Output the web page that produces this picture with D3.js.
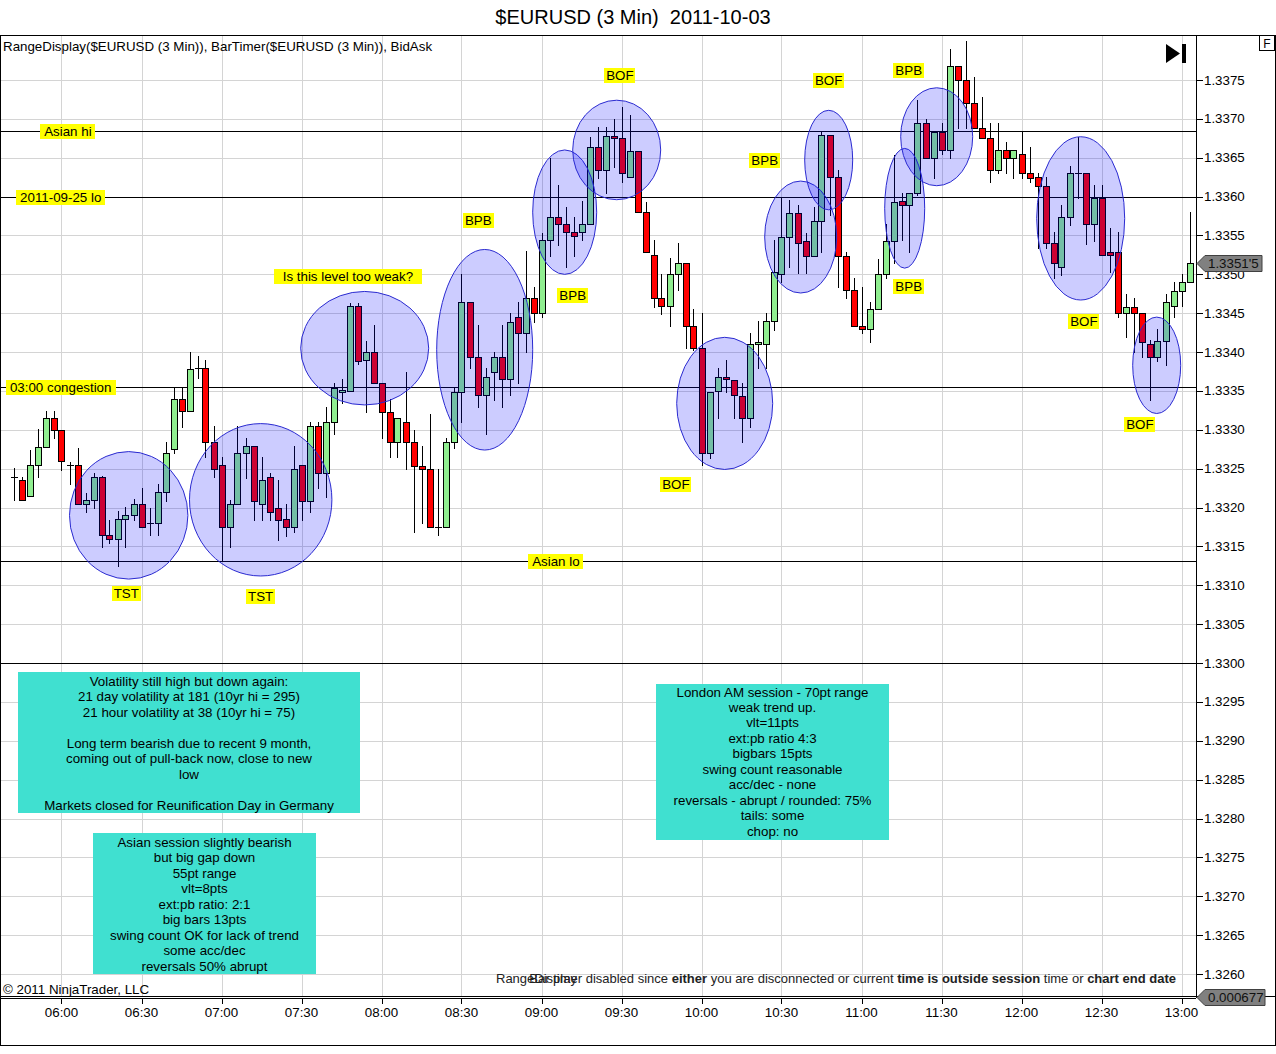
<!DOCTYPE html>
<html>
<head>
<meta charset="utf-8">
<script src="https://cdn.jsdelivr.net/npm/d3@7.9.0/dist/d3.min.js"></script>
<style>
  body { margin: 0; background: #fff; }
  text { font-family: "Liberation Sans", Arial, sans-serif; fill: #000; white-space: pre; }
  .crisp { shape-rendering: crispEdges; }
</style>
</head>
<body>
<svg id="chart" width="1276" height="1054"></svg>
<script>
// 3 min bars, first bar 05:42
const opens = [1.33239,1.33235,1.33215,1.33255,1.33278,1.33315,1.33300,1.33255,1.33255,1.33205,
  1.33210,1.33239,1.33165,1.33160,1.33185,1.33190,1.33205,1.33180,1.33180,1.33220,
  1.33275,1.33340,1.33324,1.33379,1.33379,1.33284,1.33255,1.33175,1.33205,1.33270,
  1.33279,1.33205,1.33239,1.33199,1.33185,1.33175,1.33255,1.33208,1.33305,1.33244,
  1.33310,1.33349,1.33350,1.33459,1.33390,1.33400,1.33360,1.33323,1.33284,1.33310,
  1.33284,1.33253,1.33250,1.33175,1.33175,1.33284,1.33349,1.33464,1.33394,1.33345,
  1.33374,1.33394,1.33365,1.33445,1.33424,1.33469,1.33450,1.33544,1.33574,1.33565,
  1.33554,1.33554,1.33565,1.33664,1.33634,1.33678,1.33675,1.33625,1.33659,1.33580,
  1.33525,1.33469,1.33459,1.33500,1.33515,1.33433,1.33405,1.33270,1.33350,1.33368,
  1.33364,1.33343,1.33315,1.33410,1.33410,1.33440,1.33500,1.33548,1.33579,1.33543,
  1.33524,1.33569,1.33679,1.33625,1.33524,1.33480,1.33433,1.33430,1.33455,1.33500,
  1.33543,1.33594,1.33589,1.33605,1.33695,1.33650,1.33683,1.33660,1.33768,1.33750,
  1.33720,1.33688,1.33675,1.33634,1.33660,1.33650,1.33655,1.33630,1.33625,1.33614,
  1.33540,1.33509,1.33574,1.33630,1.33630,1.33565,1.33598,1.33529,1.33529,1.33450,
  1.33458,1.33450,1.33410,1.33394,1.33414,1.33459,1.33479,1.33490];
const highs = [1.33251,1.33239,1.33274,1.33301,1.33324,1.33324,1.33300,1.33259,1.33277,1.33219,
  1.33244,1.33240,1.33184,1.33196,1.33201,1.33211,1.33225,1.33199,1.33230,1.33284,
  1.33354,1.33354,1.33400,1.33395,1.33390,1.33305,1.33265,1.33210,1.33305,1.33289,
  1.33279,1.33265,1.33244,1.33235,1.33205,1.33279,1.33255,1.33310,1.33310,1.33329,
  1.33360,1.33365,1.33463,1.33463,1.33414,1.33435,1.33360,1.33340,1.33315,1.33374,
  1.33300,1.33279,1.33320,1.33250,1.33289,1.33354,1.33500,1.33464,1.33435,1.33379,
  1.33400,1.33435,1.33450,1.33464,1.33530,1.33484,1.33553,1.33650,1.33615,1.33587,
  1.33574,1.33594,1.33677,1.33689,1.33689,1.33700,1.33715,1.33705,1.33659,1.33593,
  1.33544,1.33500,1.33521,1.33540,1.33515,1.33455,1.33450,1.33349,1.33379,1.33390,
  1.33364,1.33360,1.33424,1.33440,1.33450,1.33544,1.33598,1.33596,1.33589,1.33553,
  1.33587,1.33683,1.33679,1.33634,1.33529,1.33495,1.33484,1.33464,1.33520,1.33565,
  1.33653,1.33605,1.33605,1.33724,1.33700,1.33683,1.33695,1.33790,1.33768,1.33800,
  1.33754,1.33728,1.33695,1.33695,1.33670,1.33660,1.33683,1.33664,1.33630,1.33625,
  1.33554,1.33589,1.33639,1.33677,1.33630,1.33615,1.33615,1.33560,1.33554,1.33475,
  1.33469,1.33450,1.33415,1.33430,1.33475,1.33490,1.33500,1.33580];
const lows = [1.33210,1.33210,1.33215,1.33239,1.33278,1.33289,1.33248,1.33230,1.33205,1.33194,
  1.33199,1.33149,1.33154,1.33125,1.33149,1.33184,1.33175,1.33165,1.33165,1.33208,
  1.33270,1.33304,1.33324,1.33367,1.33265,1.33239,1.33131,1.33149,1.33205,1.33238,
  1.33184,1.33184,1.33184,1.33158,1.33163,1.33169,1.33184,1.33194,1.33225,1.33214,
  1.33295,1.33334,1.33350,1.33385,1.33323,1.33360,1.33289,1.33265,1.33265,1.33250,
  1.33169,1.33180,1.33175,1.33165,1.33175,1.33277,1.33310,1.33379,1.33329,1.33295,
  1.33338,1.33329,1.33345,1.33360,1.33400,1.33439,1.33445,1.33524,1.33538,1.33509,
  1.33524,1.33544,1.33565,1.33624,1.33605,1.33638,1.33619,1.33625,1.33580,1.33529,
  1.33458,1.33449,1.33433,1.33480,1.33405,1.33403,1.33255,1.33264,1.33315,1.33349,
  1.33315,1.33284,1.33304,1.33379,1.33379,1.33428,1.33490,1.33509,1.33502,1.33502,
  1.33524,1.33529,1.33576,1.33484,1.33469,1.33433,1.33424,1.33413,1.33455,1.33495,
  1.33515,1.33544,1.33529,1.33602,1.33650,1.33624,1.33655,1.33650,1.33688,1.33688,
  1.33688,1.33675,1.33619,1.33630,1.33630,1.33624,1.33624,1.33619,1.33534,1.33534,
  1.33495,1.33499,1.33563,1.33598,1.33539,1.33543,1.33525,1.33503,1.33445,1.33419,
  1.33400,1.33394,1.33338,1.33388,1.33383,1.33445,1.33459,1.33490];
const closes = [1.33239,1.33210,1.33255,1.33278,1.33315,1.33300,1.33260,1.33255,1.33205,1.33210,
  1.33239,1.33165,1.33160,1.33185,1.33190,1.33205,1.33175,1.33180,1.33220,1.33270,
  1.33340,1.33324,1.33378,1.33379,1.33284,1.33250,1.33175,1.33205,1.33270,1.33279,
  1.33208,1.33235,1.33194,1.33184,1.33175,1.33250,1.33208,1.33305,1.33244,1.33310,
  1.33354,1.33351,1.33459,1.33388,1.33400,1.33360,1.33323,1.33284,1.33315,1.33284,
  1.33253,1.33250,1.33175,1.33175,1.33284,1.33349,1.33464,1.33394,1.33345,1.33368,
  1.33394,1.33365,1.33439,1.33424,1.33469,1.33450,1.33544,1.33574,1.33565,1.33554,
  1.33549,1.33565,1.33664,1.33634,1.33678,1.33675,1.33630,1.33659,1.33580,1.33529,
  1.33469,1.33459,1.33500,1.33515,1.33433,1.33405,1.33270,1.33349,1.33368,1.33365,
  1.33345,1.33315,1.33410,1.33413,1.33440,1.33503,1.33548,1.33579,1.33540,1.33524,
  1.33569,1.33679,1.33625,1.33524,1.33480,1.33433,1.33430,1.33455,1.33500,1.33543,
  1.33593,1.33589,1.33605,1.33695,1.33650,1.33683,1.33660,1.33768,1.33750,1.33720,
  1.33688,1.33675,1.33634,1.33660,1.33650,1.33660,1.33630,1.33624,1.33614,1.33540,
  1.33515,1.33574,1.33630,1.33630,1.33565,1.33598,1.33525,1.33525,1.33450,1.33458,
  1.33450,1.33413,1.33394,1.33414,1.33464,1.33479,1.33490,1.33515];

// horizontal levels drawn on the chart
const levelNames = ["Asian hi", "2011-09-25 lo", "03:00 congestion", "Asian lo", ""];
const levelPrices = [1.33684, 1.33600, 1.33355, 1.33131, 1.33000];
const levelLabelBars = [6.8, 5.9, 5.9, 67.8, null];

// blue ellipses (centre bar, centre price, half width in bars, half height in price)
const zoneBars = [14.4, 30.9, 43.9, 58.9, 68.9, 75.4, 88.9, 98.4, 101.9, 111.4, 115.4, 133.4, 142.9];
const zonePrices = [1.33190, 1.33210, 1.33405, 1.33403, 1.33580, 1.33660, 1.33334, 1.33548, 1.33647, 1.33585, 1.33677, 1.33572, 1.33383];
const zoneHalfBars = [7.4, 8.9, 8.0, 6.0, 4.0, 5.5, 6.0, 4.5, 3.0, 2.5, 4.5, 5.5, 3.0];
const zoneHalfPrice = [0.00082, 0.00098, 0.00073, 0.00129, 0.00080, 0.00064, 0.00085, 0.00072, 0.00064, 0.00077, 0.00063, 0.00105, 0.00062];

// yellow setup tags
const setupNames = ["TST", "TST", "Is this level too weak?", "BPB", "BPB", "BOF", "BOF", "BPB", "BOF", "BPB", "BPB", "BOF", "BOF"];
const setupBars = [14.1, 30.9, 41.8, 58.1, 69.9, 75.8, 82.8, 93.9, 101.9, 111.9, 111.9, 133.8, 140.8];
const setupPrices = [1.33089, 1.33086, 1.33497, 1.33569, 1.33473, 1.33756, 1.33230, 1.33646, 1.33749, 1.33762, 1.33484, 1.33439, 1.33307];

const noteVolatility = ["Volatility still high but down again:", "21 day volatility at 181 (10yr hi = 295)",
  "21 hour volatility at 38 (10yr hi = 75)", "", "Long term bearish due to recent 9 month,",
  "coming out of pull-back now, close to new", "low", "", "Markets closed for Reunification Day in Germany"];
const noteAsian = ["Asian session slightly bearish", "but big gap down", "55pt range", "vlt=8pts",
  "ext:pb ratio: 2:1", "big bars 13pts", "swing count OK for lack of trend", "some acc/dec", "reversals 50% abrupt"];
const noteLondon = ["London AM session - 70pt range", "weak trend up.", "vlt=11pts", "ext:pb ratio 4:3",
  "bigbars 15pts", "swing count reasonable", "acc/dec - none", "reversals - abrupt / rounded: 75%",
  "tails: some", "chop: no"];

const lastPrice = "1.3351'5";
const rangeValue = "0.000677";

const svg = d3.select('#chart');
const W = 1276;
const FS = '13.33px';
const plot = { left: 1, right: 1196, top: 36, bottom: 997 };

const start = new Date(2011, 9, 3, 5, 42);
const barTime = (i) => new Date(start.getTime() + i * 180000);
const times = opens.map((_, i) => barTime(i));

const x = d3.scaleTime().domain([times[0], times[times.length - 1]]).range([13.5, 1189.5]);
const y = d3.scaleLinear().domain([1.3260, 1.3375]).range([974, 80]);
const bx = (i) => x(barTime(i));

svg.append('rect').attr('width', W).attr('height', 1054).attr('fill', '#fff');

// title
svg.append('text').attr('x', 633).attr('y', 24).attr('text-anchor', 'middle')
  .style('font-size', '20px').text('$EURUSD (3 Min)  2011-10-03');

svg.append('clipPath').attr('id', 'plotclip').append('rect')
  .attr('x', plot.left).attr('y', plot.top).attr('width', plot.right - plot.left).attr('height', plot.bottom - plot.top);

const grid = svg.append('g').attr('class', 'crisp');
const priceTicks = y.ticks(24);
const timeTicks = x.ticks(d3.timeMinute.every(30));

grid.selectAll('.hg').data(priceTicks).join('line')
  .attr('x1', plot.left).attr('x2', plot.right)
  .attr('y1', d => Math.round(y(d)) + 0.5).attr('y2', d => Math.round(y(d)) + 0.5)
  .attr('stroke', '#d4d4d4');
grid.selectAll('.vg').data(timeTicks).join('line')
  .attr('x1', d => Math.round(x(d)) + 0.5).attr('x2', d => Math.round(x(d)) + 0.5)
  .attr('y1', plot.top).attr('y2', plot.bottom)
  .attr('stroke', '#d4d4d4');

// level lines
svg.append('g').attr('class', 'crisp').selectAll('line').data(levelPrices).join('line')
  .attr('x1', plot.left).attr('x2', plot.right)
  .attr('y1', d => Math.round(y(d)) + 0.5).attr('y2', d => Math.round(y(d)) + 0.5)
  .attr('stroke', '#000');

// candles
const candles = svg.append('g').attr('clip-path', 'url(#plotclip)').attr('class', 'crisp');
const bars = candles.selectAll('g').data(opens.map((o, i) => i)).join('g');
bars.append('line')
  .attr('x1', i => Math.round(bx(i)) + 0.5).attr('x2', i => Math.round(bx(i)) + 0.5)
  .attr('y1', i => Math.round(y(highs[i]))).attr('y2', i => Math.round(y(lows[i])) + 1)
  .attr('stroke', '#000');
bars.filter(i => opens[i] !== closes[i]).append('rect')
  .attr('x', i => Math.round(bx(i)) - 2.5)
  .attr('width', 6)
  .attr('y', i => Math.round(y(Math.max(opens[i], closes[i]))) + 0.5)
  .attr('height', i => Math.max(1, Math.round(y(Math.min(opens[i], closes[i]))) - Math.round(y(Math.max(opens[i], closes[i])))))
  .attr('fill', i => closes[i] > opens[i] ? '#90ee90' : '#ff0000')
  .attr('stroke', '#000');
bars.filter(i => opens[i] === closes[i]).append('line')
  .attr('x1', i => Math.round(bx(i)) - 3).attr('x2', i => Math.round(bx(i)) + 4)
  .attr('y1', i => Math.round(y(opens[i])) + 0.5).attr('y2', i => Math.round(y(opens[i])) + 0.5)
  .attr('stroke', '#000');

// ellipses
svg.append('g').attr('clip-path', 'url(#plotclip)').selectAll('ellipse').data(zoneBars).join('ellipse')
  .attr('cx', (d, i) => bx(d))
  .attr('cy', (d, i) => y(zonePrices[i]))
  .attr('rx', (d, i) => bx(d + zoneHalfBars[i]) - bx(d))
  .attr('ry', (d, i) => y(zonePrices[i] - zoneHalfPrice[i]) - y(zonePrices[i]))
  .attr('fill', 'rgba(0,0,255,0.2)')
  .attr('stroke', '#2a2ad0').attr('stroke-width', 1);

// yellow tags
function tag(label, cx, cy, padX) {
  const g = svg.append('g');
  const r = g.append('rect').attr('fill', '#ffff00').attr('class', 'crisp');
  const t = g.append('text').attr('x', cx).attr('y', cy).attr('text-anchor', 'middle')
    .attr('dominant-baseline', 'central').style('font-size', FS).text(label);
  const b = t.node().getBBox();
  r.attr('x', Math.round(b.x - padX)).attr('y', Math.round(cy - 7.5))
    .attr('width', Math.round(b.width + 2 * padX)).attr('height', 15);
}
levelNames.forEach((n, i) => { if (n) tag(n, bx(levelLabelBars[i]), Math.round(y(levelPrices[i])) + 0.5, 4); });
setupNames.forEach((n, i) => tag(n, bx(setupBars[i]), y(setupPrices[i]), n.length > 3 ? 9 : 2));

// note boxes
function note(lines, left, top, w, h, cx, firstY, step) {
  svg.append('rect').attr('class', 'crisp').attr('x', left).attr('y', top).attr('width', w).attr('height', h).attr('fill', '#40e0d0');
  svg.append('g').selectAll('text').data(lines).join('text')
    .attr('x', cx).attr('y', (d, i) => firstY + i * step).attr('text-anchor', 'middle')
    .attr('dominant-baseline', 'central').style('font-size', FS).text(d => d);
}
note(noteVolatility, 18, 672, 342, 141, 189, 681, 15.5);
note(noteAsian, 93, 833, 223, 141, 204.5, 842, 15.5);
note(noteLondon, 656, 684, 233, 156, 772.5, 692, 15.45);

// indicator text
svg.append('text').attr('x', 3).attr('y', 51).style('font-size', FS)
  .text('RangeDisplay($EURUSD (3 Min)), BarTimer($EURUSD (3 Min)), BidAsk');
svg.append('text').attr('x', 3).attr('y', 994).style('font-size', FS).text('\u00a9 2011 NinjaTrader, LLC');
svg.append('text').attr('x', 496).attr('y', 983).style('font-size', '13px').style('fill', '#222').text('RangeDisplay');
const bt = svg.append('text').attr('x', 1176).attr('y', 983).attr('text-anchor', 'end')
  .style('font-size', '13px').style('fill', '#222');
[['Bar timer disabled since ', 0], ['either', 1], [' you are disconnected or current ', 0],
 ['time is outside session', 1], [' time or ', 0], ['chart end date', 1]].forEach(([s, b]) => {
  bt.append('tspan').style('font-weight', b ? 'bold' : 'normal').style('fill', '#222').text(s);
});

// go-to-end icon
svg.append('path').attr('d', 'M1166,44 L1180,53.5 L1166,63 Z').attr('fill', '#000');
svg.append('rect').attr('x', 1182).attr('y', 44).attr('width', 4).attr('height', 19).attr('fill', '#000');

// frame
const frame = svg.append('g').attr('class', 'crisp');
frame.append('rect').attr('x', 0.5).attr('y', 35.5).attr('width', 1275).attr('height', 1010)
  .attr('fill', 'none').attr('stroke', '#000');
frame.append('line').attr('x1', 1196.5).attr('x2', 1196.5).attr('y1', 35).attr('y2', 998).attr('stroke', '#000');
frame.append('line').attr('x1', 0).attr('x2', 1276).attr('y1', 996.5).attr('y2', 996.5).attr('stroke', '#000');
frame.append('line').attr('x1', 0).attr('x2', 1196).attr('y1', 998.5).attr('y2', 998.5).attr('stroke', '#000');
frame.append('rect').attr('x', 1259.5).attr('y', 35.5).attr('width', 15).attr('height', 15)
  .attr('fill', '#fff').attr('stroke', '#000');
svg.append('text').attr('x', 1267).attr('y', 48).attr('text-anchor', 'middle').style('font-size', '12px').text('F');

// price axis
const yAxis = svg.append('g');
yAxis.selectAll('line').data(priceTicks).join('line').attr('class', 'crisp')
  .attr('x1', 1196).attr('x2', 1203)
  .attr('y1', d => Math.round(y(d)) + 0.5).attr('y2', d => Math.round(y(d)) + 0.5).attr('stroke', '#000');
yAxis.selectAll('text').data(priceTicks).join('text')
  .attr('x', 1204).attr('y', d => y(d)).attr('dominant-baseline', 'central')
  .style('font-size', FS).text(d3.format('.4f'));

// time axis
const xAxis = svg.append('g');
xAxis.selectAll('line').data(timeTicks).join('line').attr('class', 'crisp')
  .attr('x1', d => Math.round(x(d)) + 0.5).attr('x2', d => Math.round(x(d)) + 0.5)
  .attr('y1', 999).attr('y2', 1004).attr('stroke', '#000');
xAxis.selectAll('text').data(timeTicks).join('text')
  .attr('x', d => x(d)).attr('y', 1017).attr('text-anchor', 'middle')
  .style('font-size', FS).text(d3.timeFormat('%H:%M'));

// price markers
function marker(py, right, label) {
  svg.append('path')
    .attr('d', `M1197,${py} L1205,${py - 8} L${right},${py - 8} L${right},${py + 8} L1205,${py + 8} Z`)
    .attr('fill', '#808080').attr('stroke', '#404040');
  svg.append('text').attr('x', 1208).attr('y', py).attr('dominant-baseline', 'central')
    .style('font-size', FS).style('fill', '#111').text(label);
}
marker(Math.round(y(closes[closes.length - 1])) + 0.5, 1262, lastPrice);
marker(997.5, 1265, rangeValue);
</script>
</body>
</html>
